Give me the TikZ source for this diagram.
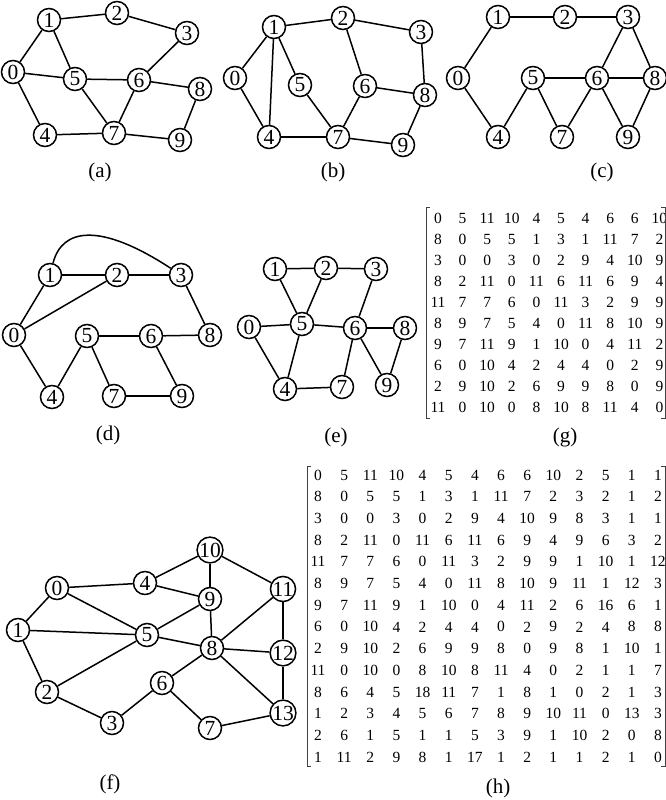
\documentclass[tikz,border=0pt]{standalone}
\usepackage{fontspec}
\setmainfont{Liberation Serif}
\usepackage{tikz}
\usetikzlibrary{calc}

\begin{document}
\begin{tikzpicture}[x=1pt,y=-1pt,line width=1.5pt]

\tikzset{vertex/.style={draw,shape=circle,inner sep=0pt,minimum size=23pt,font=\fontsize{21.5}{21.5}\selectfont},
caption/.style={font=\fontsize{21}{21}\selectfont,inner sep=0pt},
entry/.style={font=\fontsize{15.5}{15.5}\selectfont,inner sep=0pt},
bracket/.style={line width=0.6pt,draw=black!75}}

\useasboundingbox (0,0) rectangle (666,800);

% Graph (a)
\foreach \n/\x/\y in {0/13/72,1/49/20,2/117/13,3/187/33,4/45/135,5/75/79,6/139/80,7/114/133,8/200/89,9/180/140}
  \node[vertex] (a\n) at (\x,\y) {\n};
\foreach \u/\v in {0/1,1/2,2/3,1/5,0/5,5/6,3/6,6/8,0/4,4/7,5/7,6/7,7/9,8/9} \draw (a\u) -- (a\v);
\node[caption] (capa) at (100,172) {(a)};

% Graph (b)
\foreach \n/\x/\y in {0/235/78,1/274/27,2/343/18,3/421/32,4/269/137,5/300/85,6/365/86,7/338/137,8/425/95,9/403/145}
  \node[vertex] (b\n) at (\x,\y) {\n};
\foreach \u/\v in {0/1,1/2,2/3,1/4,1/5,0/4,2/6,3/8,6/8,5/7,6/7,4/7,7/9,8/9} \draw (b\u) -- (b\v);
\node[caption] (capb) at (333,172) {(b)};

% Graph (c)
\foreach \n/\x/\y in {0/458/78,1/498/17,2/565/17,3/628/17,4/498/137,5/533/78,6/597/78,7/562/137,8/655/78,9/628/137}
  \node[vertex] (c\n) at (\x,\y) {\n};
\foreach \u/\v in {0/1,1/2,2/3,0/4,4/5,5/6,5/7,6/7,3/6,3/8,6/8,6/9,8/9} \draw (c\u) -- (c\v);
\node[caption] (capc) at (602,172) {(c)};

% Graph (d)
\foreach \n/\x/\y in {0/14/335,1/50/275,2/117/275,3/181/275,4/52/397,5/87/336,6/151/336,7/114/396,8/210/335,9/182/396}
  \node[vertex] (d\n) at (\x,\y) {\n};
\foreach \u/\v in {0/1,1/2,2/3,0/2,3/8,5/6,6/8,0/4,4/5,5/7,7/9,6/9} \draw (d\u) -- (d\v);
\draw (d1) .. controls (62,228) and (100,222) .. (d3); % arc over the top
\node[caption] (capd) at (108,435) {(d)};

% Graph (e)
\foreach \n/\x/\y in {0/249/327,1/275/269,2/326/268,3/376/269,4/285/389,5/302/324,6/355/328,7/342/387,8/405/328,9/387/385}
  \node[vertex] (e\n) at (\x,\y) {\n};
\foreach \u/\v in {1/2,2/3,1/5,2/5,0/5,5/6,3/6,6/8,0/4,4/5,4/7,6/7,6/9,8/9} \draw (e\u) -- (e\v);
\node[caption] (cape) at (336,437) {(e)};

% Graph (f)
\foreach \n/\x/\y in {0/57/588,1/18/630,2/47/692,3/112/723,4/145/583,5/147/635,6/162/683,7/210/728,8/212/648,9/210/599,10/210/550,11/283/589,12/283/653,13/283/713}
  \node[vertex] (f\n) at (\x,\y) {\n};
\foreach \u/\v in {0/1,0/4,0/5,1/5,1/2,2/5,2/3,3/6,4/10,4/9,5/9,5/8,6/8,6/7,7/13,8/9,9/10,10/11,8/11,8/12,11/12,12/13,8/13} \draw (f\u) -- (f\v);
\node[caption] (capf) at (110,784) {(f)};

% Matrix (g)
\foreach \row [count=\i] in {{0,5,11,10,4,5,4,6,6,10},{8,0,5,5,1,3,1,11,7,2},{3,0,0,3,0,2,9,4,10,9},{8,2,11,0,11,6,11,6,9,4},{11,7,7,6,0,11,3,2,9,9},{8,9,7,5,4,0,11,8,10,9},{9,7,11,9,1,10,0,4,11,2},{6,0,10,4,2,4,4,0,2,9},{2,9,10,2,6,9,9,8,0,9},{11,0,10,0,8,10,8,11,4,0}}
  \foreach \e [count=\j] in \row \node[entry] (g\i-\j) at ({438+(\j-1)*24.6},{218+(\i-1)*21}) {\e};
\draw[bracket] (430,207) -- (426,207) -- (426,418) -- (430,418);
\draw[bracket] (661,207) -- (665,207) -- (665,418) -- (661,418);
\node[caption] (capg) at (565,437) {(g)};

% Matrix (h)
\foreach \row [count=\i] in {{0,5,11,10,4,5,4,6,6,10,2,5,1,1},{8,0,5,5,1,3,1,11,7,2,3,2,1,2},{3,0,0,3,0,2,9,4,10,9,8,3,1,1},{8,2,11,0,11,6,11,6,9,4,9,6,3,2},{11,7,7,6,0,11,3,2,9,9,1,10,1,12},{8,9,7,5,4,0,11,8,10,9,11,1,12,3},{9,7,11,9,1,10,0,4,11,2,6,16,6,1},{6,0,10,4,2,4,4,0,2,9,2,4,8,8},{2,9,10,2,6,9,9,8,0,9,8,1,10,1},{11,0,10,0,8,10,8,11,4,0,2,1,1,7},{8,6,4,5,18,11,7,1,8,1,0,2,1,3},{1,2,3,4,5,6,7,8,9,10,11,0,13,3},{2,6,1,5,1,1,5,3,9,1,10,2,0,8},{1,11,2,9,8,1,17,1,2,1,1,2,1,0}}
  \foreach \e [count=\j] in \row \node[entry] (h\i-\j) at ({318+(\j-1)*26.15},{475+(\i-1)*21.7}) {\e};
\draw[bracket] (311,466) -- (307,466) -- (307,766) -- (311,766);
\draw[bracket] (661,466) -- (665,466) -- (665,766) -- (661,766);
\node[caption] (caph) at (498,788) {(h)};

\end{tikzpicture}
\end{document}
